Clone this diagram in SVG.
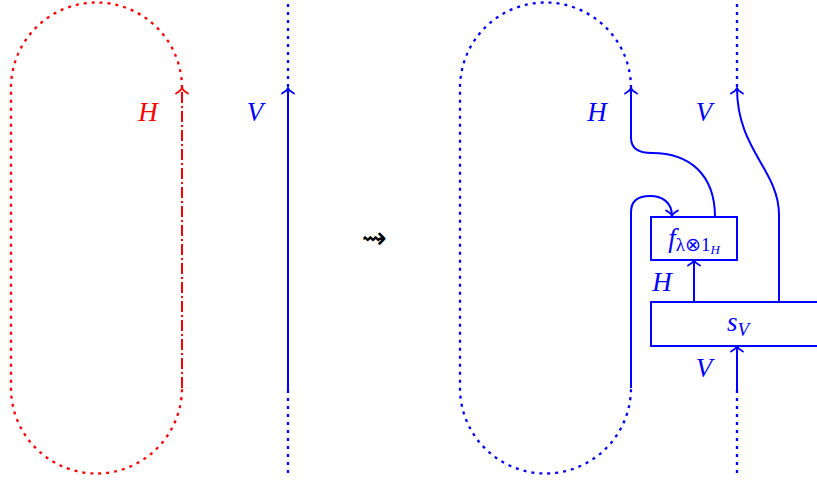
<svg xmlns="http://www.w3.org/2000/svg" width="817" height="482" viewBox="0 0 817 482">
<style>
.r{stroke:#ff0000;fill:none;stroke-width:2}
.b{stroke:#0000ff;fill:none;stroke-width:2}
.dot{stroke-dasharray:3 5;stroke-width:2.3}
.dd{stroke-dasharray:11 3 2 3}
.ah{fill:none;stroke-width:1.8;stroke-linecap:round}
.lbl{font-family:"Liberation Serif",serif;font-style:italic;font-size:27px}
.sub{font-family:"Liberation Serif",serif;font-style:italic;font-size:19px}
.bx{fill:#fff;stroke:#0000ff;stroke-width:2}
</style>
<defs>
<path id="up" d="M-6,5.5 Q-1.2,3 0,0 Q1.2,3 6,5.5"/>
</defs>
<rect width="817" height="482" fill="#fff"/>
<g id="connectors">
<path class="r dot" d="M182,88 A85.5,85.5 0 0 0 11,88 L11,388 A85.5,85.5 0 0 0 182,388"/>
<path class="r dd" d="M182,388 L182,88"/>
<use href="#up" x="182" y="88" class="ah" stroke="#ff0000"/>
<path class="b dot" d="M288,4 L288,88"/>
<path class="b" d="M288,390 L288,88"/>
<path class="b dot" d="M288,390 L288,473"/>
<use href="#up" x="288" y="88" class="ah" stroke="#0000ff"/>
<path class="b dot" d="M631,88 A85.5,85.5 0 0 0 460,88 L460,388 A85.5,85.5 0 0 0 631,388"/>
<path class="b" d="M631,88 L631,138 C631,148 638,153 652,153 C690,153 715,175 715,217"/>
<use href="#up" x="631" y="88" class="ah" stroke="#0000ff"/>
<path class="b" d="M631,388 L631,212 C631,201 638,196 650,196 C663,196 672,203 672,216"/>
<use href="#up" transform="translate(672,216) rotate(180)" class="ah" stroke="#0000ff"/>
<path class="b dot" d="M737,4 L737,88"/>
<path class="b" d="M737,88 C737,150 779,170 779,215 L779,302"/>
<use href="#up" x="737" y="88" class="ah" stroke="#0000ff"/>
<path class="b" d="M694,302 L694,260"/>
<use href="#up" x="694" y="260" class="ah" stroke="#0000ff"/>
<path class="b" d="M737,390 L737,346"/>
<path class="b dot" d="M737,390 L737,473"/>
<use href="#up" x="737" y="346" class="ah" stroke="#0000ff"/>
</g>
<g id="labels">
<text class="lbl" x="148" y="121" text-anchor="middle" fill="#ff0000">H</text>
<text class="lbl" x="255" y="121" text-anchor="middle" fill="#0000ff">V</text>
<text class="lbl" x="597" y="121" text-anchor="middle" fill="#0000ff">H</text>
<text class="lbl" x="704" y="121" text-anchor="middle" fill="#0000ff">V</text>
<text class="lbl" x="662" y="291" text-anchor="middle" fill="#0000ff">H</text>
<text class="lbl" x="704" y="377" text-anchor="middle" fill="#0000ff">V</text>
<text x="374" y="248" text-anchor="middle" font-family="DejaVu Sans,sans-serif" font-size="30" fill="#000">⇝</text>
</g>
<g id="f">
<rect class="bx" x="651" y="217" width="86" height="43"/>
<text x="694" y="247" text-anchor="middle" fill="#0000ff"><tspan class="lbl">f</tspan><tspan class="sub" style="font-style:normal" dy="4">λ⊗1</tspan><tspan class="sub" style="font-size:13px" dy="3">H</tspan></text>
</g>
<g id="sV">
<rect class="bx" x="651" y="302" width="170" height="44"/>
<text x="738" y="331" text-anchor="middle" fill="#0000ff"><tspan class="lbl">s</tspan><tspan class="sub" dy="5">V</tspan></text>
</g>
</svg>
